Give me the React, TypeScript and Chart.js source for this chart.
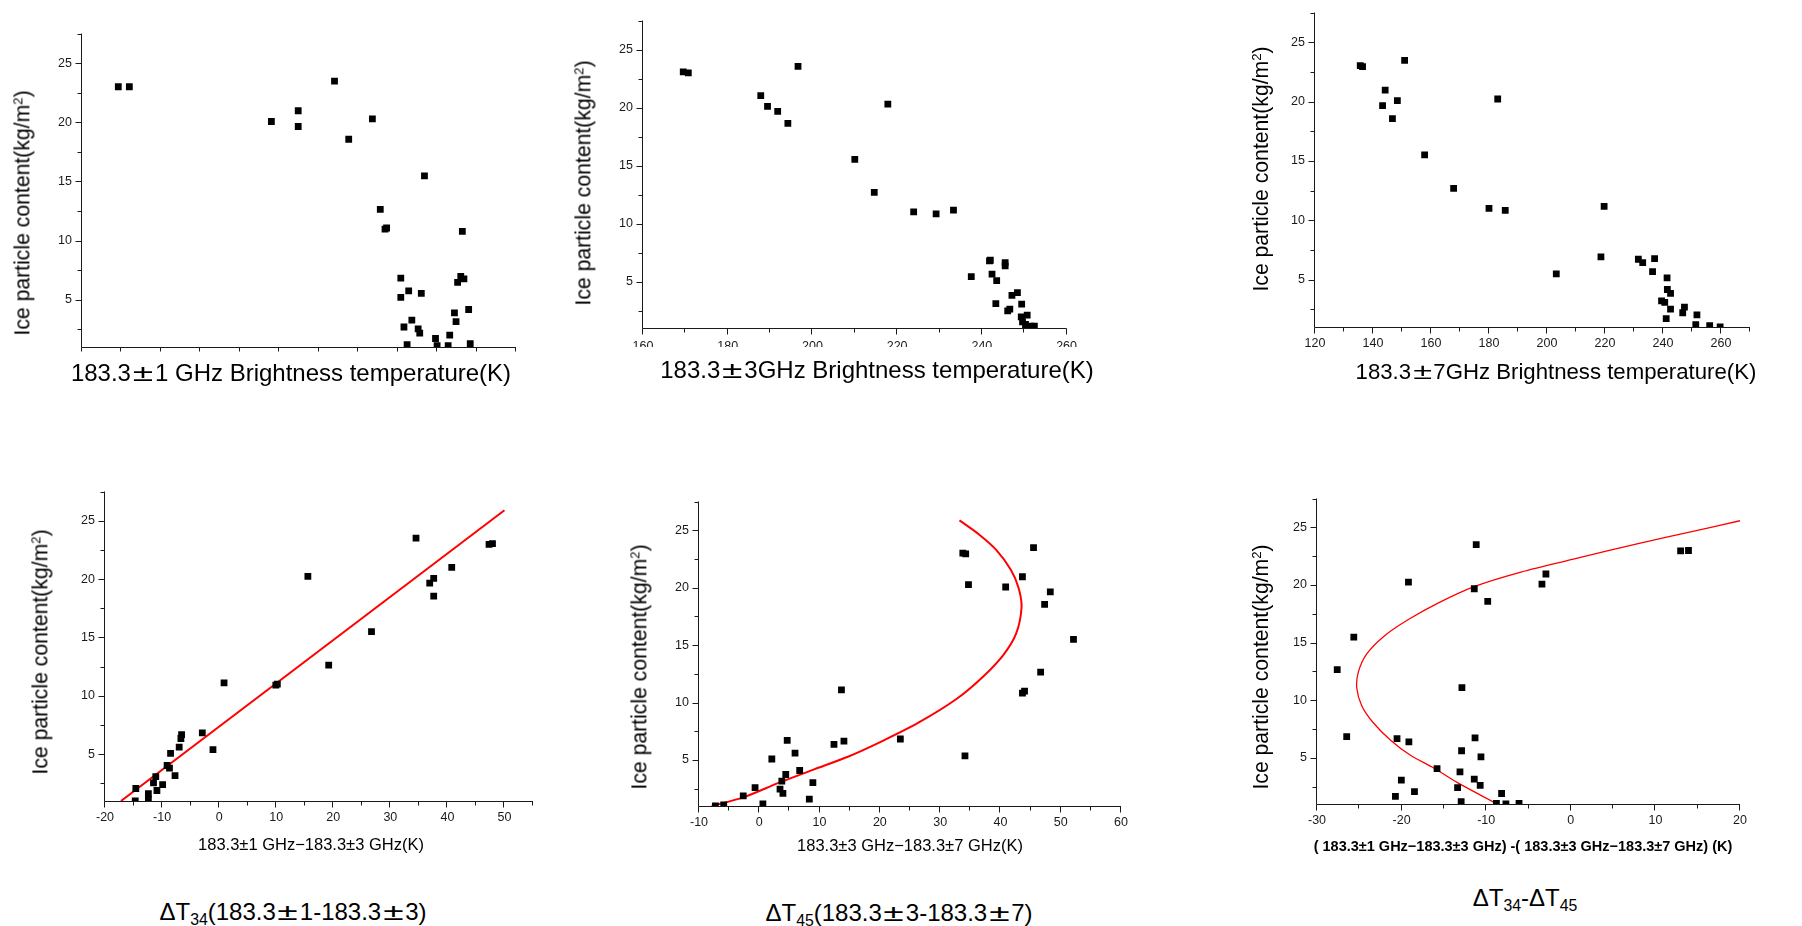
import React, { useEffect, useRef } from 'react';
import { Chart, registerables } from 'chart.js';

Chart.register(...registerables);

const FONT = '"Liberation Sans", Arial, Helvetica, sans-serif';

// ---------- shared y axis ----------
const Y_MIN = 1;
const Y_MAX = 27.5;
const Y_TICK_LABELS = [5, 10, 15, 20, 25];
const Y_MINOR_TICKS = [2.5, 7.5, 12.5, 17.5, 22.5, 27.5];

// ---------- panel 1 : 183.3±1 GHz brightness temperature ----------
const P1_X_TICKS = [215, 217.5, 220, 222.5, 225, 227.5, 230, 232.5, 235, 237.5, 240, 242.5];
const P1_X = [217.3, 218.0, 227.0, 228.7, 228.7, 231.0, 231.9, 233.4, 236.7, 233.9, 234.2, 234.3, 239.1,
  235.2, 235.7, 235.2, 236.5, 239.0, 239.2, 238.8, 239.5, 238.6, 238.7, 235.9, 235.4, 236.3, 236.4, 237.4,
  238.3, 235.6, 237.5, 238.2, 239.6];
const P1_Y = [23.0, 23.0, 20.06, 20.97, 19.64, 23.47, 18.56, 20.28, 15.47, 12.64, 10.97, 11.06, 10.78,
  6.83, 5.75, 5.19, 5.53, 6.97, 6.75, 6.47, 4.17, 3.89, 3.14, 3.28, 2.69, 2.53, 2.17, 1.72,
  2.0, 1.19, 1.11, 1.11, 1.28];

// ---------- panel 2 : 183.3±3 GHz ----------
const P2_X_TICK_LABELS = [160, 180, 200, 220, 240, 260];
const P2_X_MINOR = [170, 190, 210, 230, 250];
const P2_X = [169.5, 170.7, 196.6, 187.8, 189.4, 191.8, 194.2, 217.8, 210.0, 214.6, 223.9, 229.2, 233.3,
  237.5, 241.8, 242.0, 245.5, 245.5, 242.4, 243.5, 243.3, 247.1, 248.4, 249.4, 246.1, 246.6, 249.3, 250.7,
  249.6, 250.3, 251.6, 252.4];
const P2_Y = [23.07, 22.99, 23.55, 21.03, 20.1, 19.67, 18.63, 20.3, 15.54, 12.68, 11.0, 10.84, 11.15,
  5.42, 6.78, 6.84, 6.64, 6.36, 5.65, 5.08, 3.1, 3.81, 4.04, 3.05, 2.48, 2.62, 1.95, 2.11,
  1.54, 1.3, 1.15, 1.15];

// ---------- panel 3 : 183.3±7 GHz ----------
const P3_X_TICK_LABELS = [120, 140, 160, 180, 200, 220, 240, 260];
const P3_X_MINOR = [130, 150, 170, 190, 210, 230, 250, 270];
const P3_X = [135.6, 136.4, 150.9, 144.2, 143.3, 148.4, 146.7, 183.0, 157.8, 167.8, 180.0, 185.6, 219.7,
  203.2, 218.6, 231.5, 233.0, 237.1, 236.4, 241.4, 241.5, 242.6, 239.5, 240.6, 242.6, 246.8, 247.4, 241.1,
  251.7, 251.3, 256.1, 259.7];
const P3_Y = [23.02, 22.94, 23.46, 20.96, 19.66, 20.08, 18.56, 20.21, 15.51, 12.68, 11.0, 10.83, 11.16,
  5.47, 6.9, 6.71, 6.42, 6.77, 5.67, 5.14, 4.16, 3.84, 3.21, 3.07, 2.5, 2.2, 2.68, 1.7,
  2.03, 1.2, 1.12, 1.01];

// ---------- panel 4 : ΔT34 ----------
const P4_X_TICK_LABELS = [-20, -10, 0, 10, 20, 30, 40, 50];
const P4_X_MINOR = [-15, -5, 5, 15, 25, 35, 45, 55];
const P4_X = [47.3, 47.9, 34.5, 15.55, 40.76, 37.6, 36.9, 37.6, 26.7, 19.2, 9.93, 10.2, 0.86,
  -6.58, -6.7, -2.95, -7.0, -1.08, -8.51, -9.12, -8.7, -7.73, -11.1, -11.5, -9.9, -10.9, -12.4, -14.6,
  -12.4, -14.7];
const P4_Y = [22.97, 23.03, 23.51, 20.24, 21.0, 20.07, 19.65, 18.55, 15.51, 12.63, 10.92, 11.0, 11.11,
  6.69, 6.35, 6.83, 5.62, 5.39, 5.08, 4.04, 3.82, 3.17, 3.08, 2.55, 2.41, 1.9, 1.62, 2.07,
  1.14, 1.0];
const P4_FIT_X = [-17.2, 50.0];
const P4_FIT_Y = [1.0, 25.9];

// ---------- panel 5 : ΔT45 ----------
const P5_X_TICK_LABELS = [-10, 0, 10, 20, 30, 40, 50, 60];
const P5_X_MINOR = [-5, 5, 15, 25, 35, 45, 55];
const P5_X = [33.76, 34.24, 45.49, 34.7, 43.65, 40.87, 48.27, 47.33, 52.12, 46.67, 43.65, 44.0, 13.63,
  34.12, 23.4, 12.39, 14.04, 4.63, 5.93, 2.08, 6.7, 4.39, 3.74, 8.89, 3.44, 3.92, -0.7, -2.66,
  8.3, 0.6, -5.9, -7.28];
const P5_Y = [23.0, 22.95, 23.49, 20.26, 20.95, 20.06, 19.64, 18.55, 15.5, 12.65, 10.82, 10.99, 11.1,
  5.37, 6.83, 6.37, 6.65, 6.71, 5.6, 5.09, 4.09, 3.74, 3.17, 3.03, 2.46, 2.09, 2.6, 1.89,
  1.6, 1.18, 1.09, 1.0];
const P5_FIT_X = [-7.9, -2.66, 3.27, 9.0, 14.8, 20.4, 26.4, 32.7, 37.2, 40.5, 42.6, 43.5, 43.0, 41.7, 39.3, 36.6, 33.2];
const P5_FIT_Y = [1.0, 1.75, 3.03, 4.17, 5.31, 6.65, 8.25, 10.31, 12.3, 14.16, 16.0, 18.3, 20.0, 21.58, 23.29, 24.57, 25.86];

// ---------- panel 6 : ΔT34 - ΔT45 ----------
const P6_X_TICK_LABELS = [-30, -20, -10, 0, 10, 20];
const P6_X_MINOR = [-25, -15, -5, 5, 15];
const P6_X = [12.98, 13.91, -11.18, -19.19, -2.94, -3.41, -11.41, -9.82, -25.65, -27.61, -12.87, -26.49,
  -20.54, -19.14, -11.32, -12.91, -10.62, -15.81, -13.1, -20.03, -11.41, -10.71, -13.38, -18.48, -8.18,
  -20.73, -12.96, -8.79, -7.67, -6.12];
const P6_Y = [22.96, 22.99, 23.5, 20.24, 20.95, 20.07, 19.67, 18.57, 15.48, 12.65, 11.09, 6.84,
  6.67, 6.39, 6.73, 5.62, 5.08, 4.07, 3.78, 3.07, 3.16, 2.62, 2.42, 2.08, 1.91,
  1.66, 1.2, 1.06, 1.0, 1.06];
const P6_FIT_X = [-8.7, -13.4, -16.2, -19.0, -21.3, -23.4, -24.7, -25.3, -25.1, -24.1, -22.0, -19.2, -15.7, -11.5, -5.9, 0.66, 7.7, 14.7, 20.0];
const P6_FIT_Y = [1.0, 2.85, 4.12, 5.25, 6.53, 8.09, 9.5, 11.06, 12.48, 14.04, 15.6, 17.0, 18.43, 19.84, 21.12, 22.3, 23.55, 24.7, 25.57];

// ---------- layout ----------
const YW = 60;   // reserved width for the y axis
const XH = 40;   // reserved height for the x axis
const PT = 12;   // top padding
const PR = 20;   // right padding

type PanelCfg = {
  id: string;
  L: number; T: number; R: number; B: number;
  xMin: number; xMax: number;
  xLabels: number[]; xMinor: number[]; showXLabels: boolean;
  xMajLen: number; xPad: number;
  px: number[]; py: number[];
  fx?: number[]; fy?: number[]; fitW?: number; tension?: number;
};

const PANELS: PanelCfg[] = [
  { id: 'p1', L: 82, T: 28, R: 516, B: 347, xMin: 215, xMax: 242.5, xLabels: P1_X_TICKS, xMinor: [],
    showXLabels: false, xMajLen: 4, xPad: 9, px: P1_X, py: P1_Y },
  { id: 'p2', L: 643, T: 15, R: 1068, B: 328, xMin: 160, xMax: 260, xLabels: P2_X_TICK_LABELS, xMinor: P2_X_MINOR,
    showXLabels: true, xMajLen: 6, xPad: 11, px: P2_X, py: P2_Y },
  { id: 'p3', L: 1315, T: 7, R: 1750, B: 327, xMin: 120, xMax: 270, xLabels: P3_X_TICK_LABELS, xMinor: P3_X_MINOR,
    showXLabels: true, xMajLen: 6, xPad: 9, px: P3_X, py: P3_Y },
  { id: 'p4', L: 105, T: 486, R: 533, B: 801, xMin: -20, xMax: 55, xLabels: P4_X_TICK_LABELS, xMinor: P4_X_MINOR,
    showXLabels: true, xMajLen: 6, xPad: 9, px: P4_X, py: P4_Y, fx: P4_FIT_X, fy: P4_FIT_Y, fitW: 2, tension: 0 },
  { id: 'p5', L: 699, T: 496, R: 1121, B: 806, xMin: -10, xMax: 60, xLabels: P5_X_TICK_LABELS, xMinor: P5_X_MINOR,
    showXLabels: true, xMajLen: 6, xPad: 9, px: P5_X, py: P5_Y, fx: P5_FIT_X, fy: P5_FIT_Y, fitW: 2, tension: 0.3 },
  { id: 'p6', L: 1317, T: 493, R: 1740, B: 804, xMin: -30, xMax: 20, xLabels: P6_X_TICK_LABELS, xMinor: P6_X_MINOR,
    showXLabels: true, xMajLen: 6, xPad: 9, px: P6_X, py: P6_Y, fx: P6_FIT_X, fy: P6_FIT_Y, fitW: 1.3, tension: 0.3 },
];

const axesPlugin = {
  id: 'oaxes',
  afterDraw(chart: any, _args: any, opts: any) {
    const { ctx, chartArea: a } = chart;
    const xs = chart.scales.x;
    const ys = chart.scales.y;
    const ax = a.left - 0.5;
    const ay = a.bottom + 0.5;
    ctx.save();
    ctx.strokeStyle = '#1a1a1a';
    ctx.lineWidth = 1;
    ctx.beginPath();
    ctx.moveTo(ax, a.top);
    ctx.lineTo(ax, ay);
    ctx.lineTo(a.right, ay);
    for (const v of opts.yMajor) {
      const p = Math.round(ys.getPixelForValue(v)) + 0.5;
      ctx.moveTo(ax, p); ctx.lineTo(ax - 6, p);
    }
    for (const v of opts.yMinor) {
      const p = Math.round(ys.getPixelForValue(v)) + 0.5;
      ctx.moveTo(ax, p); ctx.lineTo(ax - 4, p);
    }
    for (const v of opts.xMajor) {
      const p = Math.round(xs.getPixelForValue(v)) - 0.5;
      ctx.moveTo(p, ay); ctx.lineTo(p, ay + opts.xMajLen);
    }
    for (const v of opts.xMinor) {
      const p = Math.round(xs.getPixelForValue(v)) - 0.5;
      ctx.moveTo(p, ay); ctx.lineTo(p, ay + 4);
    }
    ctx.stroke();
    ctx.restore();
  },
};

function Panel({ cfg }: { cfg: PanelCfg }) {
  const ref = useRef<HTMLCanvasElement>(null);
  const w = cfg.R - cfg.L + YW + PR;
  const h = cfg.B - cfg.T + PT + XH;
  useEffect(() => {
    if (!ref.current) return;
    const datasets: any[] = [
      {
        type: 'scatter',
        data: cfg.px.map((x, i) => ({ x, y: cfg.py[i] })),
        pointStyle: 'rect',
        pointRadius: 4.8,
        pointHoverRadius: 4.8,
        backgroundColor: '#000',
        borderColor: '#000',
        borderWidth: 0,
        showLine: false,
        clip: 0,
        order: 0,
      },
    ];
    if (cfg.fx && cfg.fy) {
      datasets.push({
        type: 'line',
        data: cfg.fx.map((x, i) => ({ x, y: cfg.fy![i] })),
        borderColor: '#ff0000',
        borderWidth: cfg.fitW,
        pointRadius: 0,
        tension: cfg.tension,
        fill: false,
        clip: 0,
        order: 1,
      });
    }
    const tickFont = { family: FONT, size: 12.5 };
    const chart = new Chart(ref.current, {
      type: 'scatter',
      data: { datasets },
      options: {
        animation: false,
        responsive: false,
        maintainAspectRatio: false,
        events: [],
        layout: { padding: { top: PT, right: PR, left: 0, bottom: 0 } },
        plugins: {
          legend: { display: false },
          tooltip: { enabled: false },
          oaxes: {
            yMajor: Y_TICK_LABELS,
            yMinor: Y_MINOR_TICKS,
            xMajor: cfg.xLabels,
            xMinor: cfg.xMinor,
            xMajLen: cfg.xMajLen,
          },
        } as any,
        scales: {
          x: {
            type: 'linear',
            min: cfg.xMin,
            max: cfg.xMax,
            grid: { display: false, drawTicks: false },
            border: { display: false },
            ticks: {
              display: cfg.showXLabels,
              font: tickFont,
              color: '#1a1a1a',
              padding: cfg.xPad,
              maxRotation: 0,
              autoSkip: false,
            },
            afterBuildTicks: (s: any) => { s.ticks = cfg.xLabels.map((v) => ({ value: v })); },
            afterFit: (s: any) => { s.height = XH; },
          },
          y: {
            type: 'linear',
            min: Y_MIN,
            max: Y_MAX,
            grid: { display: false, drawTicks: false },
            border: { display: false },
            ticks: { font: tickFont, color: '#1a1a1a', padding: 10, autoSkip: false },
            afterBuildTicks: (s: any) => { s.ticks = Y_TICK_LABELS.map((v) => ({ value: v })); },
            afterFit: (s: any) => { s.width = YW; },
          },
        } as any,
      },
      plugins: [axesPlugin],
    } as any);
    return () => chart.destroy();
  }, []);
  return (
    <canvas
      ref={ref}
      width={w}
      height={h}
      style={{ position: 'absolute', left: cfg.L - YW, top: cfg.T - PT, width: w, height: h }}
    />
  );
}

const PM = () => (
  <span style={{ display: 'inline-block', width: '1em', textAlign: 'center', transform: 'scaleX(1.55)' }}>±</span>
);

function HText({ x, y, size, bold, children }: any) {
  return (
    <div
      style={{
        position: 'absolute', left: x, top: y, transform: 'translateX(-50%)', fontSize: size,
        lineHeight: 1, whiteSpace: 'nowrap', fontWeight: bold ? 700 : 400, color: '#000',
      }}
    >
      {children}
    </div>
  );
}

function YTitle({ x, y }: { x: number; y: number }) {
  return (
    <div
      style={{
        position: 'absolute', left: x, top: y, transform: 'translate(-50%,-50%) rotate(-90deg)',
        fontSize: 21.2, lineHeight: 1, whiteSpace: 'nowrap', color: '#000',
      }}
    >
      Ice particle content(kg/m<sup style={{ fontSize: '0.62em', lineHeight: 0, verticalAlign: '0.55em' }}>2</sup>)
    </div>
  );
}

const sub = { fontSize: '0.66em', lineHeight: 0, verticalAlign: '-0.3em' } as const;

export default function App() {
  return (
    <div
      style={{
        position: 'absolute', left: 0, top: 0, width: 1802, height: 926, background: '#fff',
        overflow: 'hidden', fontFamily: FONT, color: '#000',
      }}
    >
      {PANELS.map((p) => <Panel key={p.id} cfg={p} />)}
      {/* half-hidden x tick labels of panel 2 */}
      <div style={{ position: 'absolute', left: 620, top: 347, width: 470, height: 10, background: '#fff' }} />

      <YTitle x={22} y={213} />
      <YTitle x={583} y={183} />
      <YTitle x={1261} y={169} />
      <YTitle x={40} y={652} />
      <YTitle x={639} y={667} />
      <YTitle x={1261} y={667} />

      <HText x={291} y={361} size={24}>183.3<PM />1 GHz Brightness temperature(K)</HText>
      <HText x={877} y={358} size={24}>183.3<PM />3GHz Brightness temperature(K)</HText>
      <HText x={1556} y={361} size={22.2}>183.3<PM />7GHz Brightness temperature(K)</HText>

      <HText x={311} y={836} size={16.5}>183.3±1 GHz−183.3±3 GHz(K)</HText>
      <HText x={910} y={837} size={16.5}>183.3±3 GHz−183.3±7 GHz(K)</HText>
      <HText x={1523} y={839} size={14.5} bold>( 183.3±1 GHz−183.3±3 GHz) -( 183.3±3 GHz−183.3±7 GHz) (K)</HText>

      <HText x={293} y={900} size={24}>ΔT<sub style={sub}>34</sub>(183.3<PM />1-183.3<PM />3)</HText>
      <HText x={899} y={901} size={24}>ΔT<sub style={sub}>45</sub>(183.3<PM />3-183.3<PM />7)</HText>
      <HText x={1525} y={886} size={24}>ΔT<sub style={sub}>34</sub>-ΔT<sub style={sub}>45</sub></HText>
    </div>
  );
}
